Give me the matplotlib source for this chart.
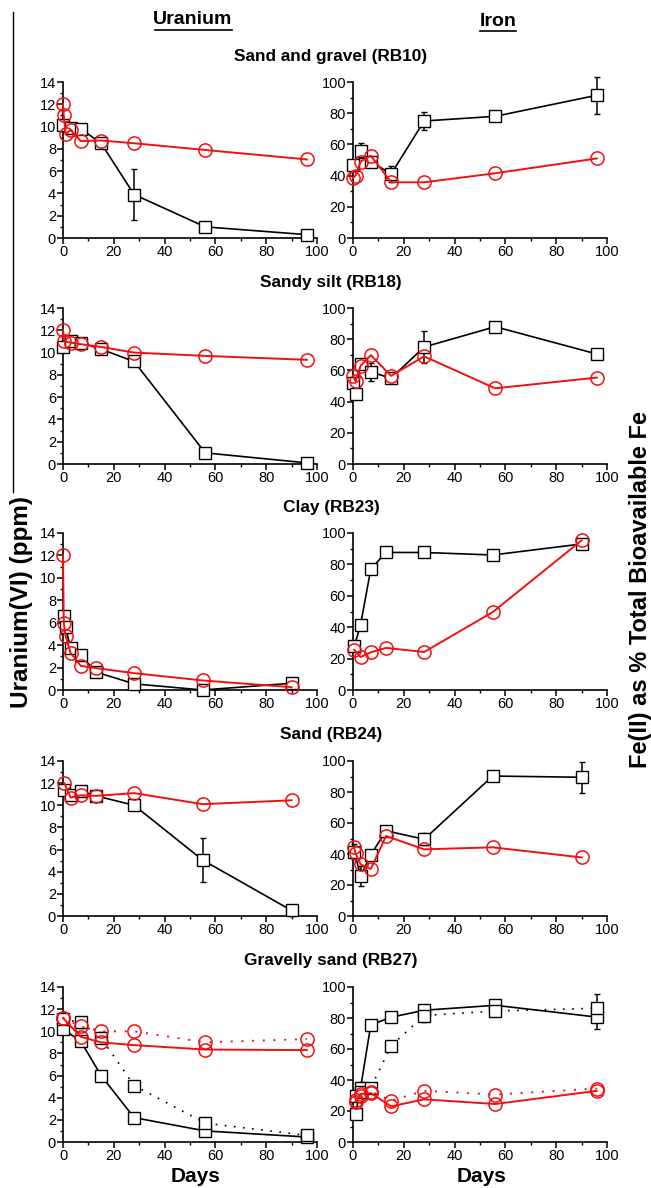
import matplotlib
matplotlib.use("Agg")
import matplotlib.pyplot as plt
from matplotlib.lines import Line2D
import matplotlib.ticker as ticker

plt.rcParams['font.family'] = ['Liberation Sans', 'DejaVu Sans']

titulos = ["Sand and gravel (RB10)", "Sandy silt (RB18)", "Clay (RB23)", "Sand (RB24)", "Gravelly sand (RB27)"]

# RB10
u10_dias_p = [0, 3, 7, 15, 28, 56, 96]
u10_preto = [10.1, 9.9, 9.8, 8.5, 3.9, 1.0, 0.3]
u10_erro = [0.3, 0.4, 0.4, 0.3, 2.3, 0.4, 0.3]
u10_dias_v = [0, 0.3, 1, 3, 7, 15, 28, 56, 96]
u10_verm = [12.0, 11.0, 9.3, 9.7, 8.7, 8.75, 8.5, 7.9, 7.05]

fe10_dias_p = [0, 3, 7, 15, 28, 56, 96]
fe10_preto = [47, 56, 49, 41, 75, 78, 91.5]
fe10_erro = [2, 5, 3, 5, 6, 3, 12]
fe10_dias_v = [0, 1, 3, 7, 15, 28, 56, 96]
fe10_verm = [38.5, 40, 49, 52.8, 35.7, 35.7, 41.5, 51]

# RB18
u18_dias_p = [0, 3, 7, 15, 28, 56, 96]
u18_preto = [10.5, 11.0, 10.9, 10.3, 9.2, 1.0, 0.1]
u18_erro = [0.4, 0.4, 0.4, 0.4, 0.4, 0.3, 0.3]
u18_dias_v = [0, 0.5, 3, 7, 15, 28, 56, 96]
u18_verm = [12.0, 11.0, 10.9, 10.75, 10.5, 10.0, 9.7, 9.35]

fe18_dias_p = [0, 1, 3, 7, 15, 28, 56, 96]
fe18_preto = [52, 45, 64, 59, 55, 75, 88, 70.5]
fe18_erro = [3, 2, 3, 6, 3, 10, 2, 3]
fe18_dias_v = [0, 1, 3, 7, 15, 28, 56, 96]
fe18_verm = [56.5, 53, 63, 69.8, 56.5, 69, 48.5, 55.4]

# RB23
u23_dias_p = [0.5, 1, 3, 7, 13, 28, 55, 90]
u23_preto = [6.6, 5.6, 3.75, 3.1, 1.6, 0.55, 0.0, 0.6]
u23_erro = [0.4, 0.4, 0.4, 0.4, 0.3, 0.3, 0.1, 0.2]
u23_dias_v = [0, 0.3, 1, 3, 7, 13, 28, 55, 90]
u23_verm = [12.0, 6.0, 4.85, 3.3, 2.15, 1.95, 1.5, 0.85, 0.25]

fe23_dias_p = [0.5, 3, 7, 13, 28, 55, 90]
fe23_preto = [27.8, 41.7, 77, 87.6, 87.6, 86, 93]
fe23_erro = [2, 3, 3, 3, 2, 3, 2]
fe23_dias_v = [0.5, 3, 7, 13, 28, 55, 90]
fe23_verm = [25.6, 21, 24, 26.8, 24.2, 49.6, 95.3]

# RB24
u24_dias_p = [0.5, 3, 7, 13, 28, 55, 90]
u24_preto = [11.4, 10.9, 11.3, 10.85, 10.0, 5.05, 0.5]
u24_erro = [0.4, 0.4, 0.3, 0.3, 0.4, 2.0, 0.5]
u24_dias_v = [0.5, 3, 7, 13, 28, 55, 90]
u24_verm = [12.0, 10.7, 10.9, 10.85, 11.1, 10.1, 10.45]

fe24_dias_p = [0.5, 3, 7, 13, 28, 55, 90]
fe24_preto = [41.5, 26, 39.4, 55, 49.5, 90.3, 89.5]
fe24_erro = [5, 6.5, 3, 3, 4, 3, 10]
fe24_dias_v = [0.3, 1, 3, 7, 13, 28, 55, 90]
fe24_verm = [44.7, 40.4, 33.3, 30.3, 51.6, 43, 44.3, 37.8]

# RB27 (solid and dotted series)
u27_dias = [0, 7, 15, 28, 56, 96]
u27_preto = [10.2, 9.1, 6.0, 2.2, 1.0, 0.45]
u27_preto_erro = [0.4, 0.4, 0.3, 0.3, 0.4, 0.4]
u27_preto_pont = [11.1, 10.8, 9.4, 5.1, 1.7, 0.6]
u27_preto_pont_erro = [0.4, 0.5, 0.5, 0.4, 0.5, 0.3]
u27_verm = [11.2, 9.5, 9.0, 8.75, 8.35, 8.3]
u27_verm_pont = [11.2, 10.45, 10.0, 10.0, 9.0, 9.3]

fe27_dias = [1, 3, 7, 15, 28, 56, 96]
fe27_preto = [18, 35, 75.5, 80.5, 85, 88.2, 80.6]
fe27_preto_erro = [2, 4, 3, 3, 3, 2, 8]
fe27_preto_pont = [30, 32, 35, 62, 81.6, 84.5, 86.3]
fe27_preto_pont_erro = [2, 2, 2, 3, 4, 3, 9]
fe27_verm = [26, 31, 31.5, 23, 27.5, 24.5, 33]
fe27_verm_pont = [27, 30, 32.5, 26.6, 33, 30.6, 34.5]

VERMELHO = '#f01010'
PONTILHADO = (0, (1, 4.5))


def preto(ax, dias, valores, erro, estilo='-'):
    ax.errorbar(dias, valores, yerr=erro, color='black', lw=1.2, ls=estilo,
                marker='s', ms=8.5, mfc='white', mec='black', mew=1.0,
                ecolor='black', elinewidth=1.1, capsize=2, capthick=1.1, zorder=3)


def vermelho(ax, dias, valores, estilo='-'):
    ax.plot(dias, valores, color=VERMELHO, lw=1.4, ls=estilo, marker='o', ms=9.5,
            mfc='none', mec=VERMELHO, mew=1.1, zorder=4)


def formatar(ax, urânio):
    ax.set_xlim(0, 100)
    ax.spines['top'].set_visible(False)
    ax.spines['right'].set_visible(False)
    ax.spines['left'].set_linewidth(1.2)
    ax.spines['bottom'].set_linewidth(1.2)
    ax.xaxis.set_major_locator(ticker.MultipleLocator(20))
    ax.xaxis.set_minor_locator(ticker.MultipleLocator(10))
    if urânio:
        ax.set_ylim(0, 14)
        ax.yaxis.set_major_locator(ticker.MultipleLocator(2))
        ax.yaxis.set_minor_locator(ticker.MultipleLocator(1))
    else:
        ax.set_ylim(0, 100)
        ax.yaxis.set_major_locator(ticker.MultipleLocator(20))
        ax.yaxis.set_minor_locator(ticker.MultipleLocator(10))
    ax.tick_params(which='major', direction='out', length=4, width=1.1, labelsize=10.5, pad=1)
    ax.tick_params(which='minor', direction='out', length=2.5, width=1.0)


fig = plt.figure(figsize=(6.51, 11.88), dpi=100)
W, H = 651, 1188

linhas_px = [(82, 238), (308, 464), (533, 690), (761, 916), (987, 1142)]
eixos = []
for topo, base in linhas_px:
    axl = fig.add_axes([63 / W, 1 - base / H, 254 / W, (base - topo) / H])
    axr = fig.add_axes([353 / W, 1 - base / H, 254 / W, (base - topo) / H])
    eixos.append((axl, axr))

# Uranium panels
preto(eixos[0][0], u10_dias_p, u10_preto, u10_erro)
vermelho(eixos[0][0], u10_dias_v, u10_verm)
preto(eixos[1][0], u18_dias_p, u18_preto, u18_erro)
vermelho(eixos[1][0], u18_dias_v, u18_verm)
preto(eixos[2][0], u23_dias_p, u23_preto, u23_erro)
vermelho(eixos[2][0], u23_dias_v, u23_verm)
preto(eixos[3][0], u24_dias_p, u24_preto, u24_erro)
vermelho(eixos[3][0], u24_dias_v, u24_verm)
preto(eixos[4][0], u27_dias, u27_preto, u27_preto_erro)
preto(eixos[4][0], u27_dias, u27_preto_pont, u27_preto_pont_erro, PONTILHADO)
vermelho(eixos[4][0], u27_dias, u27_verm)
vermelho(eixos[4][0], u27_dias, u27_verm_pont, PONTILHADO)

# Iron panels
preto(eixos[0][1], fe10_dias_p, fe10_preto, fe10_erro)
vermelho(eixos[0][1], fe10_dias_v, fe10_verm)
preto(eixos[1][1], fe18_dias_p, fe18_preto, fe18_erro)
vermelho(eixos[1][1], fe18_dias_v, fe18_verm)
preto(eixos[2][1], fe23_dias_p, fe23_preto, fe23_erro)
vermelho(eixos[2][1], fe23_dias_v, fe23_verm)
preto(eixos[3][1], fe24_dias_p, fe24_preto, fe24_erro)
vermelho(eixos[3][1], fe24_dias_v, fe24_verm)
preto(eixos[4][1], fe27_dias, fe27_preto, fe27_preto_erro)
preto(eixos[4][1], fe27_dias, fe27_preto_pont, fe27_preto_pont_erro, PONTILHADO)
vermelho(eixos[4][1], fe27_dias, fe27_verm)
vermelho(eixos[4][1], fe27_dias, fe27_verm_pont, PONTILHADO)

for axl, axr in eixos:
    formatar(axl, True)
    formatar(axr, False)
    for ax in (axl, axr):
        for art in ax.get_children():
            art.set_clip_on(False)

# titles
titulos_y = [57, 283, 508, 734, 961]
for t, y in zip(titulos, titulos_y):
    fig.text(331 / W, 1 - y / H, t, ha='center', va='center', fontsize=12.4, fontweight='bold')

fig.text(193 / W, 1 - 20 / H, "Uranium", ha='center', va='center', fontsize=14, fontweight='bold')
fig.text(498 / W, 1 - 21 / H, "Iron", ha='center', va='center', fontsize=14, fontweight='bold')
fig.add_artist(Line2D([155 / W, 232 / W], [1 - 30 / H, 1 - 30 / H], color='black', lw=1.2))
fig.add_artist(Line2D([480 / W, 516 / W], [1 - 31 / H, 1 - 31 / H], color='black', lw=1.2))

fig.text(196 / W, 1 - 1176 / H, "Days", ha='center', va='center', fontsize=15, fontweight='bold')
fig.text(482 / W, 1 - 1176 / H, "Days", ha='center', va='center', fontsize=15, fontweight='bold')

fig.text(22 / W, 1 - 602 / H, "Uranium(VI) (ppm)", ha='center', va='center', rotation=90,
         fontsize=17.5, fontweight='bold')
fig.text(641 / W, 1 - 589 / H, "Fe(II) as % Total Bioavailable Fe", ha='center', va='center',
         rotation=90, fontsize=17, fontweight='bold')

# left frame line
fig.add_artist(Line2D([13 / W, 13 / W], [1 - 12 / H, 1 - 492 / H], color='black', lw=1.0))

fig.savefig("out.png", dpi=100)
plt.close()
